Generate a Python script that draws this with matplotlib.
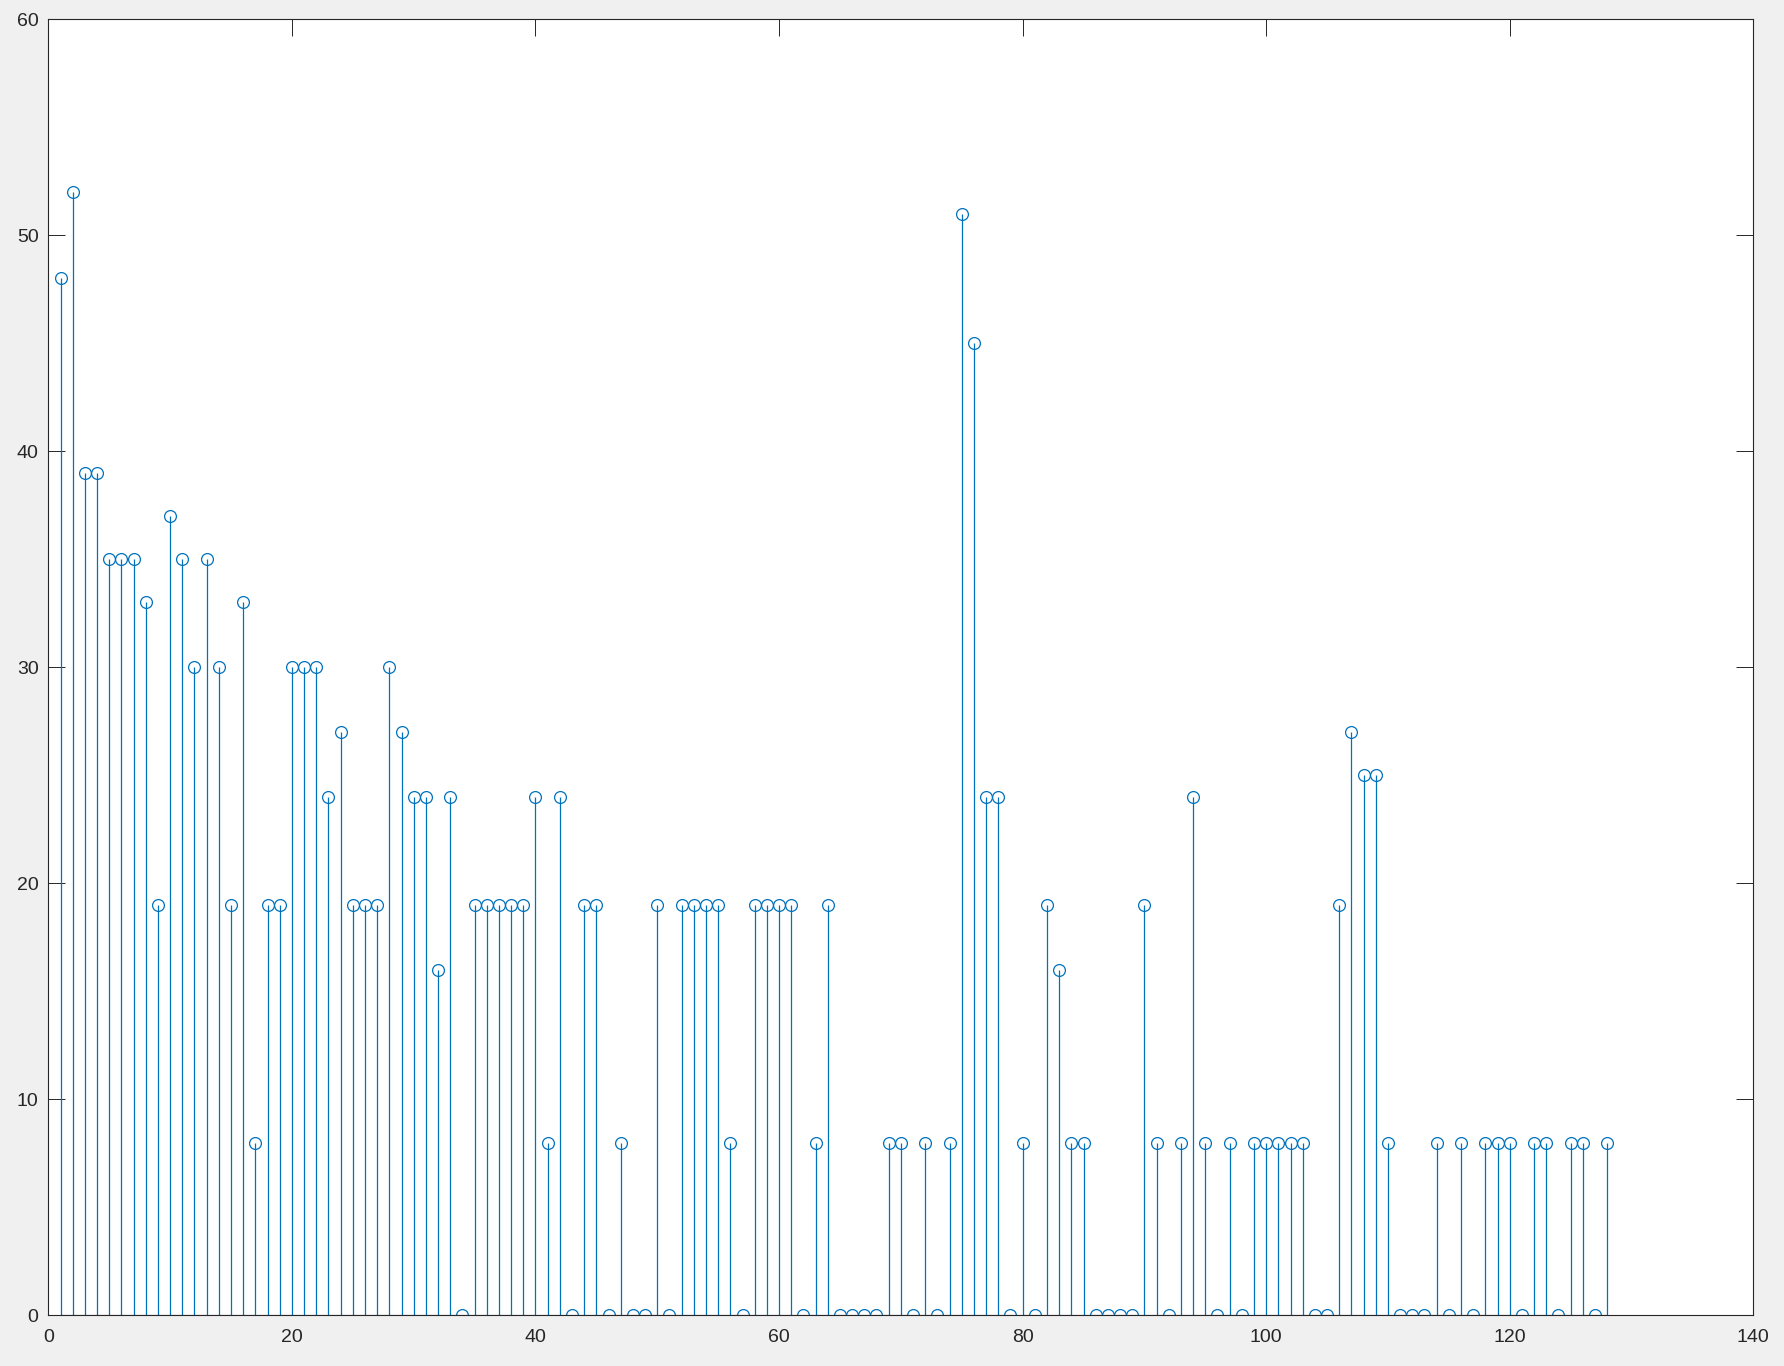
import numpy as np
import matplotlib.pyplot as plt

counts = [48, 52, 39, 39, 35, 35, 35, 33, 19, 37,
          35, 30, 35, 30, 19, 33, 8, 19, 19, 30,
          30, 30, 24, 27, 19, 19, 19, 30, 27, 24,
          24, 16, 24, 0, 19, 19, 19, 19, 19, 24,
          8, 24, 0, 19, 19, 0, 8, 0, 0, 19,
          0, 19, 19, 19, 19, 8, 0, 19, 19, 19,
          19, 0, 8, 19, 0, 0, 0, 0, 8, 8,
          0, 8, 0, 8, 51, 45, 24, 24, 0, 8,
          0, 19, 16, 8, 8, 0, 0, 0, 0, 19,
          8, 0, 8, 24, 8, 0, 8, 0, 8, 8,
          8, 8, 8, 0, 0, 19, 27, 25, 25, 8,
          0, 0, 0, 8, 0, 8, 0, 8, 8, 8,
          0, 8, 8, 0, 8, 8, 0, 8]
idx = np.arange(1, len(counts) + 1)

x_ticks = [0, 20, 40, 60, 80, 100, 120, 140]
y_ticks = [0, 10, 20, 30, 40, 50, 60]

blauw = "#0072BD"
grijs = "#262626"

plt.rcParams["font.family"] = ["Liberation Sans", "DejaVu Sans"]

fig = plt.figure(figsize=(17.84, 13.66), dpi=100, facecolor="#f0f0f0")
ax = fig.add_axes([0.0271, 0.0371, 0.9557, 0.9488])

markerline, stemlines, baseline = ax.stem(idx, counts, linefmt="-", markerfmt="o", basefmt="-")
stemlines.set_color(blauw)
stemlines.set_linewidth(0.9)
markerline.set_markerfacecolor("none")
markerline.set_markeredgecolor(blauw)
markerline.set_markersize(8.5)
markerline.set_markeredgewidth(0.9)
baseline.set_color(grijs)
baseline.set_linewidth(0.8)

ax.set_xlim(0, 140)
ax.set_ylim(0, 60)
ax.set_xticks(x_ticks)
ax.set_yticks(y_ticks)
ax.tick_params(direction="in", length=12, width=0.7, colors=grijs, labelsize=14,
               top=True, right=True)
ax.tick_params(axis="x", pad=10)
ax.tick_params(axis="y", pad=7)
for s in ax.spines.values():
    s.set_color(grijs)
    s.set_linewidth(0.8)

fig.savefig("out.png", dpi=100, facecolor=fig.get_facecolor())
